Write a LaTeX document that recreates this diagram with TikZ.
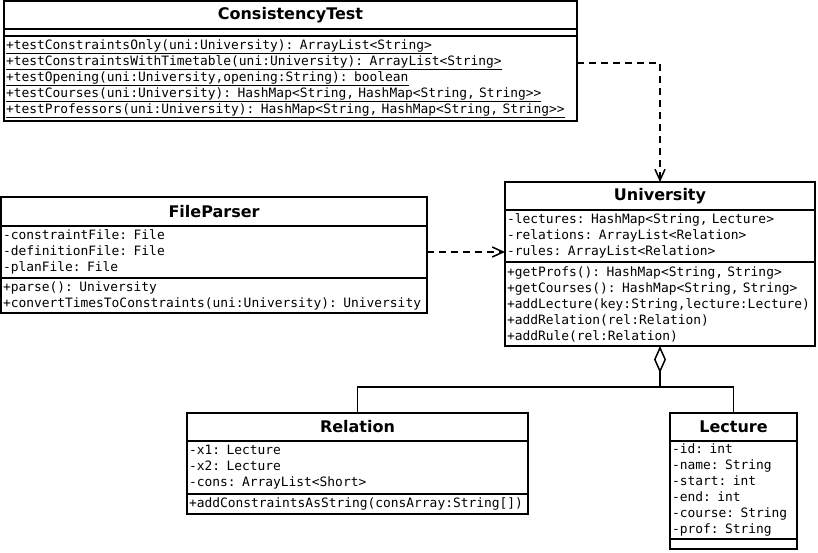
\documentclass[tikz,border=0pt]{standalone}
\usepackage{fontspec}
\setsansfont{DejaVu Sans}
\setmonofont{DejaVu Sans Mono}
\usetikzlibrary{arrows.meta}
\newcommand{\umltxt}{\ttfamily\fontsize{12.9}{16}\selectfont}
\newcommand{\umlhead}{\sffamily\bfseries\fontsize{16}{18}\selectfont}

\begin{document}
\begin{tikzpicture}[x=1pt,y=-1pt,
	cltitle/.style={draw,line width=1.5pt,anchor=north west,outer sep=0pt,inner sep=0pt,font=\umlhead},
	clpart/.style={draw,line width=1.5pt,anchor=north west,outer sep=0pt,inner xsep=2pt,inner ysep=0pt,align=left,font=\umltxt},
	depend/.style={line width=1.5pt,dash pattern=on 7pt off 5pt,-{Straight Barb[length=11pt,width=10pt]}},
	aggreg/.style={line width=1.5pt,{Diamond[open,length=27pt,width=12pt]}-}]
				\useasboundingbox (0,0) rectangle (818,552);
				\node[cltitle,minimum width=573pt,minimum height=28pt]
				(ctt) at (4,1){ConsistencyTest};
				\node[clpart,text width=569pt,minimum height=7pt]
				(cta) at (ctt.south west){};
				\node[clpart,text width=569pt,minimum height=85pt]
				(ctm) at (cta.south west){\underline{+testConstraintsOnly(uni:University): ArrayList<String>}\\
				\underline{+testConstraintsWithTimetable(uni:University): ArrayList<String>}\\
				\underline{+testOpening(uni:University,opening:String): boolean}\\
				\underline{+testCourses(uni:University): HashMap<String, HashMap<String, String>>}\\
				\underline{+testProfessors(uni:University): HashMap<String, HashMap<String, String>>}};
				\node[cltitle,minimum width=310pt,minimum height=28pt]
				(unit) at (505,182){University};
				\node[clpart,text width=306pt,minimum height=52pt]
				(unia) at (unit.south west){-lectures: HashMap<String, Lecture>\\
				-relations: ArrayList<Relation>\\
				-rules: ArrayList<Relation>};
				\node[clpart,text width=306pt,minimum height=84pt]
				(unim) at (unia.south west){+getProfs(): HashMap<String, String>\\
				+getCourses(): HashMap<String, String>\\
				+addLecture(key:String,lecture:Lecture)\\
				+addRelation(rel:Relation)\\
				+addRule(rel:Relation)};
				\node[cltitle,minimum width=426pt,minimum height=29pt]
				(fpt) at (1,197){FileParser};
				\node[clpart,text width=422pt,minimum height=52pt]
				(fpa) at (fpt.south west){-constraintFile: File\\
				-definitionFile: File\\
				-planFile: File};
				\node[clpart,text width=422pt,minimum height=35pt]
				(fpm) at (fpa.south west){+parse(): University\\
				+convertTimesToConstraints(uni:University): University};
				\node[cltitle,minimum width=341pt,minimum height=28pt]
				(relt) at (187,413){Relation};
				\node[clpart,text width=337pt,minimum height=53pt]
				(rela) at (relt.south west){-x1: Lecture\\
				-x2: Lecture\\
				-cons: ArrayList<Short>};
				\node[clpart,text width=337pt,minimum height=20pt]
				(relm) at (rela.south west){+addConstraintsAsString(consArray:String[])};
				\node[cltitle,minimum width=127pt,minimum height=28pt]
				(lect) at (670,413){Lecture};
				\node[clpart,text width=123pt,minimum height=98pt]
				(leca) at (lect.south west){-id: int\\
				-name: String\\
				-start: int\\
				-end: int\\
				-course: String\\
				-prof: String};
				\node[clpart,text width=123pt,minimum height=10pt]
				(lecm) at (leca.south west){};
				\coordinate (ctbend) at (660,63);
				\coordinate (aggjoin) at (660,387);
				\draw[depend](ctbend -| ctm.east)--(ctbend)--(unit.north);
				\draw[depend](fpa.east)--(fpa.east -| unia.west);
				\draw[aggreg](unim.south)--(aggjoin)-|(relt.north);
				\draw[line width=1.5pt](aggjoin)-|(lect.north);
			\end{tikzpicture}
\end{document}
